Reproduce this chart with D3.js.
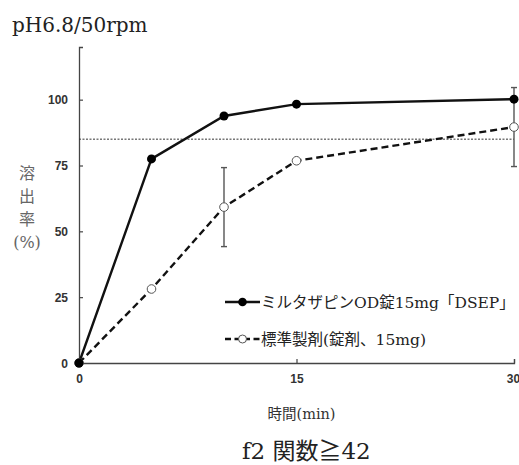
<!DOCTYPE html>
<html>
<head>
<meta charset="utf-8">
<script src="https://cdn.jsdelivr.net/npm/d3@7"></script>
<style>
  body { margin: 0; background: #fff; }
  svg { display: block; }
</style>
</head>
<body>
<script>
var times = [0, 5, 10, 15, 30]
var testValues = [0, 77.5, 93.8, 98.3, 100.2]
var refValues = [0, 28.1, 59.2, 76.8, 89.6]
var refErrors = [0, 0, 15, 0, 15]
var xTicks = [0, 15, 30]
var yTicks = [0, 25, 50, 75, 100]
var criterion = 85
var seriesNames = ['ミルタザピンOD錠15mg「DSEP」', '標準製剤(錠剤、15mg)']

var width = 519
var height = 465
var serif = "'DejaVu Serif', 'Liberation Serif', 'Noto Sans CJK JP', serif"
var sans = "'Liberation Sans', Arial, 'Noto Sans CJK JP', sans-serif"

var svg = d3.select('body').append('svg')
  .attr('width', width)
  .attr('height', height)

var x = d3.scaleLinear().domain([0, 30]).range([79, 514])
var y = d3.scaleLinear().domain([0, 120]).range([363, 47])

// title
svg.append('text')
  .attr('x', 12)
  .attr('y', 32)
  .text('pH6.8/50rpm')
  .style('font-family', serif)
  .style('font-size', '20px')
  .style('fill', '#222')

// axes
var yAxis = d3.axisLeft(y).tickValues(yTicks).tickSize(-4).tickPadding(11)
var xAxis = d3.axisBottom(x).tickValues(xTicks).tickSize(-4).tickPadding(11)

var gy = svg.append('g').attr('transform', 'translate(' + x(0) + ',0)').call(yAxis)
var gx = svg.append('g').attr('transform', 'translate(0,' + y(0) + ')').call(xAxis)

;[gx, gy].forEach(function (g) {
  g.select('.domain').attr('stroke', '#444').attr('stroke-width', 1.3)
  g.selectAll('.tick line').attr('stroke', '#444').attr('stroke-width', 1.2)
  g.selectAll('.tick text')
    .style('font-family', sans)
    .style('font-size', '12px')
    .style('font-weight', 'bold')
    .style('fill', '#333')
})
gy.selectAll('.tick text').attr('dy', '0.35em')
gx.selectAll('.tick text').filter(function (d) { return d === 30 }).attr('dx', '-1px')

// criterion line
svg.append('line')
  .attr('x1', x(0))
  .attr('x2', x(30))
  .attr('y1', y(criterion))
  .attr('y2', y(criterion))
  .attr('stroke', '#333')
  .attr('stroke-width', 1)
  .attr('stroke-dasharray', '2,1.5')

// y label, stacked vertically
var yLabel = ['溶', '出', '率', '(%)']
svg.append('g').selectAll('text')
  .data(yLabel)
  .enter().append('text')
  .attr('x', 27)
  .attr('y', function (d, i) { return 179 + i * 23 })
  .attr('text-anchor', 'middle')
  .text(function (d) { return d })
  .style('font-family', serif)
  .style('font-size', '16px')
  .style('fill', '#666')

// x label
svg.append('text')
  .attr('x', x(15) + 5)
  .attr('y', 419)
  .attr('text-anchor', 'middle')
  .text('時間(min)')
  .style('font-family', serif)
  .style('font-size', '14.5px')
  .style('fill', '#333')

// footer
svg.append('text')
  .attr('x', 242)
  .attr('y', 459)
  .text('f2 関数≧42')
  .style('font-family', serif)
  .style('font-size', '23px')
  .style('fill', '#222')

var line = d3.line()
  .x(function (d) { return x(d[0]) })
  .y(function (d) { return y(d[1]) })

// error bars (reference)
var errData = times.map(function (t, i) { return { t: t, v: refValues[i], e: refErrors[i] } })
  .filter(function (d) { return d.e > 0 })
var eb = svg.append('g').selectAll('g').data(errData).enter().append('g')
eb.append('line')
  .attr('x1', function (d) { return x(d.t) })
  .attr('x2', function (d) { return x(d.t) })
  .attr('y1', function (d) { return y(d.v + d.e) })
  .attr('y2', function (d) { return y(d.v - d.e) })
  .attr('stroke', '#555').attr('stroke-width', 1.4)
;[1, -1].forEach(function (s) {
  eb.append('line')
    .attr('x1', function (d) { return x(d.t) - 3 })
    .attr('x2', function (d) { return x(d.t) + 3 })
    .attr('y1', function (d) { return y(d.v + s * d.e) })
    .attr('y2', function (d) { return y(d.v + s * d.e) })
    .attr('stroke', '#555').attr('stroke-width', 1.4)
})

// reference series
svg.append('path')
  .datum(times.map(function (t, i) { return [t, refValues[i]] }))
  .attr('d', line)
  .attr('fill', 'none')
  .attr('stroke', '#111')
  .attr('stroke-width', 2.4)
  .attr('stroke-dasharray', '7,4')

// test series
svg.append('path')
  .datum(times.map(function (t, i) { return [t, testValues[i]] }))
  .attr('d', line)
  .attr('fill', 'none')
  .attr('stroke', '#111')
  .attr('stroke-width', 2.4)

svg.append('g').selectAll('circle')
  .data(times.map(function (t, i) { return [t, refValues[i]] }))
  .enter().append('circle')
  .attr('cx', function (d) { return x(d[0]) })
  .attr('cy', function (d) { return y(d[1]) })
  .attr('r', 4.3)
  .attr('fill', '#fff')
  .attr('stroke', '#555')
  .attr('stroke-width', 1)

svg.append('g').selectAll('circle')
  .data(times.map(function (t, i) { return [t, testValues[i]] }))
  .enter().append('circle')
  .attr('cx', function (d) { return x(d[0]) })
  .attr('cy', function (d) { return y(d[1]) })
  .attr('r', 4.5)
  .attr('fill', '#000')

// legend
var legend = svg.append('g').attr('transform', 'translate(225,302)')
legend.append('line')
  .attr('x1', 0).attr('x2', 35).attr('y1', 0).attr('y2', 0)
  .attr('stroke', '#111').attr('stroke-width', 2.4)
legend.append('circle').attr('cx', 17.5).attr('cy', 0).attr('r', 4.3).attr('fill', '#000')
legend.append('line')
  .attr('x1', 0).attr('x2', 35).attr('y1', 37).attr('y2', 37)
  .attr('stroke', '#111').attr('stroke-width', 2.4)
  .attr('stroke-dasharray', '6,3.5')
legend.append('circle').attr('cx', 17.5).attr('cy', 37).attr('r', 4).attr('fill', '#fff')
  .attr('stroke', '#555').attr('stroke-width', 1)
legend.selectAll('text.lg')
  .data(seriesNames)
  .enter().append('text')
  .attr('class', 'lg')
  .attr('x', 36)
  .attr('y', function (d, i) { return i * 37 + 5.5 })
  .text(function (d) { return d })
  .style('font-family', serif)
  .style('font-size', '15.5px')
  .style('fill', '#222')
</script>
</body>
</html>
